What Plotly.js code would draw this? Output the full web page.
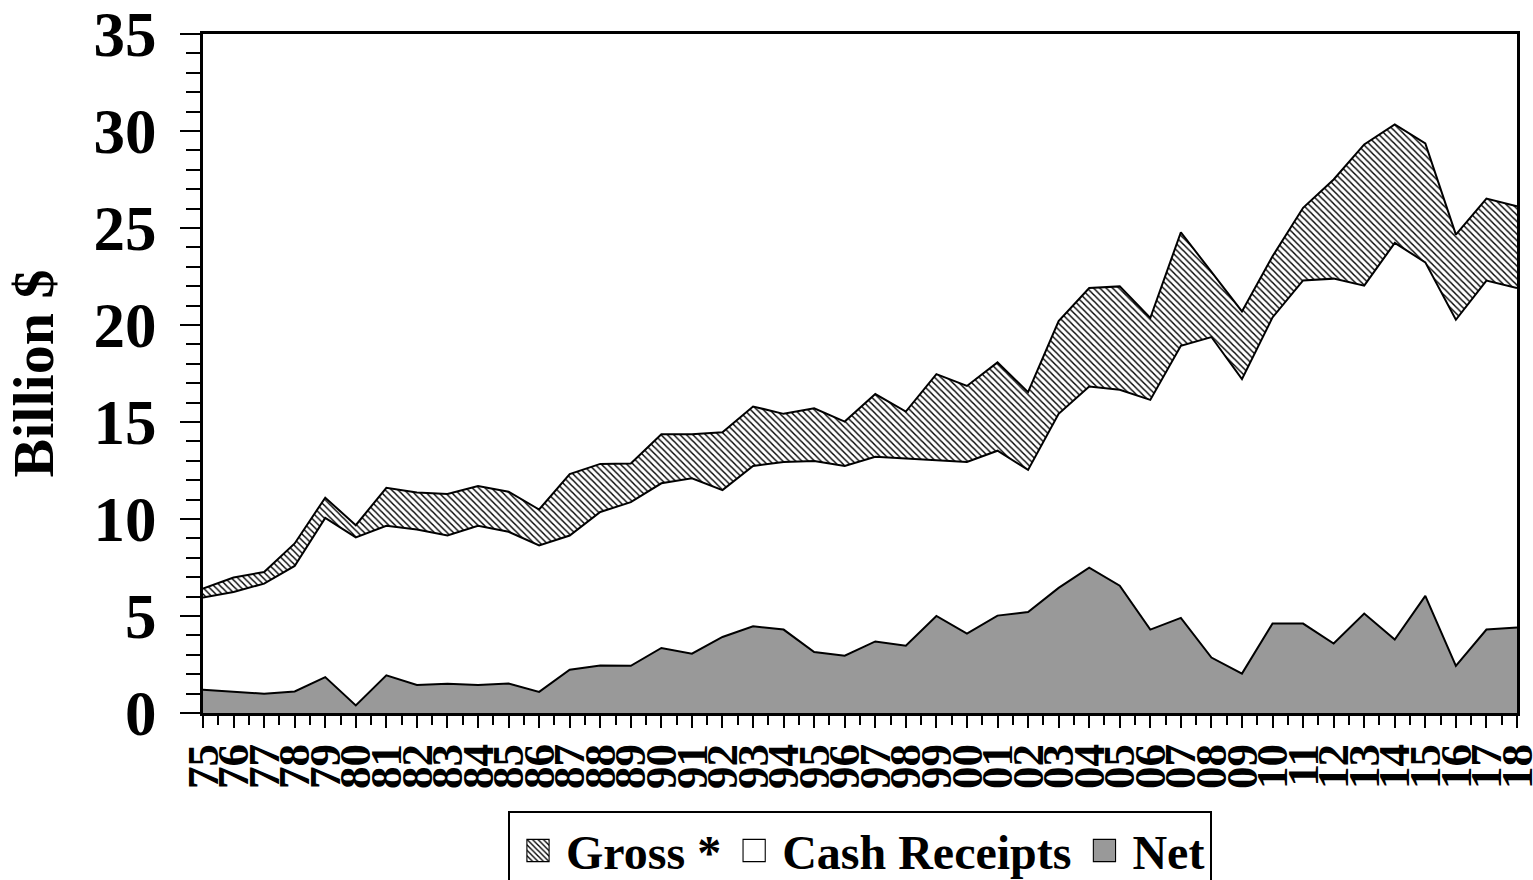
<!DOCTYPE html>
<html>
<head>
<meta charset="utf-8">
<script src="https://cdn.plot.ly/plotly-3.0.1.min.js"></script>
<style>
  html, body { margin: 0; padding: 0; background: #ffffff; }
  #chart { width: 1533px; height: 880px; }
</style>
</head>
<body>
<div id="chart"></div>
<script>
// Years 1975..2018 and their two-digit tick labels
const years = [1975,1976,1977,1978,1979,1980,1981,1982,1983,1984,1985,1986,1987,1988,1989,1990,1991,1992,1993,1994,1995,1996,1997,1998,1999,2000,2001,2002,2003,2004,2005,2006,2007,2008,2009,2010,2011,2012,2013,2014,2015,2016,2017,2018];
const tickLabels = ["75","76","77","78","79","80","81","82","83","84","85","86","87","88","89","90","91","92","93","94","95","96","97","98","99","00","01","02","03","04","05","06","07","08","09","10","11","12","13","14","15","16","17","18"];

// Billion $
const gross = [6.41,6.98,7.27,8.74,11.10,9.68,11.61,11.37,11.29,11.70,11.41,10.49,12.32,12.84,12.86,14.37,14.37,14.47,15.80,15.42,15.71,15.02,16.44,15.54,17.47,16.86,18.07,16.54,20.20,21.91,21.99,20.36,24.78,22.72,20.70,23.54,26.04,27.50,29.31,30.34,29.36,24.66,26.52,26.12];
const cashReceipts = [5.95,6.24,6.67,7.58,10.06,9.05,9.65,9.46,9.15,9.65,9.34,8.64,9.15,10.36,10.87,11.84,12.10,11.49,12.73,12.94,12.99,12.73,13.21,13.13,13.04,12.94,13.52,12.53,15.42,16.83,16.66,16.14,18.93,19.38,17.21,20.39,22.30,22.39,22.03,24.23,23.23,20.27,22.29,21.91];
const net = [1.20,1.11,0.99,1.11,1.85,0.39,1.94,1.44,1.51,1.44,1.52,1.09,2.23,2.45,2.43,3.35,3.06,3.92,4.47,4.30,3.14,2.95,3.69,3.47,5.00,4.09,5.02,5.21,6.45,7.49,6.56,4.30,4.90,2.86,2.03,4.61,4.61,3.58,5.13,3.79,6.04,2.43,4.30,4.41];

const seriesNames = ["Gross *", "Cash Receipts", "Net"];
const minorTicks = years.slice(0, -1).map(y => y + 0.5);

const FONT = "Liberation Serif, Times New Roman, serif";
const lineStyle = { color: "#000000", width: 2 };
const hatch = { shape: "\\", size: 4.5, solidity: 0.32, fgcolor: "#000000", bgcolor: "#ffffff", fillmode: "replace" };

const traces = [
  { x: years, y: gross, type: "scatter", mode: "lines", fill: "tozeroy",
    line: lineStyle, fillcolor: "#ffffff", fillpattern: hatch, showlegend: false, hoverinfo: "skip" },
  { x: years, y: cashReceipts, type: "scatter", mode: "lines", fill: "tozeroy",
    line: lineStyle, fillcolor: "#ffffff", showlegend: false, hoverinfo: "skip" },
  { x: years, y: net, type: "scatter", mode: "lines", fill: "tozeroy",
    line: lineStyle, fillcolor: "#999999", showlegend: false, hoverinfo: "skip" },
  // legend entries
  { x: [null], y: [null], type: "bar", name: seriesNames[0],
    marker: { color: "#ffffff", line: { color: "#000000", width: 0.6 }, pattern: { shape: "\\", size: 2.6, solidity: 0.35, fgcolor: "#000000", bgcolor: "#ffffff" } } },
  { x: [null], y: [null], type: "bar", name: seriesNames[1],
    marker: { color: "#ffffff", line: { color: "#000000", width: 0.6 } } },
  { x: [null], y: [null], type: "bar", name: seriesNames[2],
    marker: { color: "#999999", line: { color: "#000000", width: 0.6 } } }
];

const layout = {
  width: 1533, height: 880,
  paper_bgcolor: "#ffffff", plot_bgcolor: "#ffffff",
  margin: { l: 203, r: 16, t: 34, b: 167, autoexpand: false },
  font: { family: FONT, color: "#000000", weight: "bold" },
  showlegend: true,
  legend: {
    orientation: "h", x: 0.5, xanchor: "center", y: -0.144, yanchor: "top",
    bordercolor: "#000000", borderwidth: 2, bgcolor: "#ffffff",
    font: { family: FONT, size: 48, color: "#000000", weight: "bold" },
    traceorder: "normal", itemwidth: 46
  },
  xaxis: {
    range: [1974.9999, 2018.0001], fixedrange: true,
    tickmode: "array", tickvals: years, ticktext: tickLabels, tickangle: -90,
    ticks: "outside", ticklen: 12, tickwidth: 2, tickcolor: "#000000",
    ticklabelstandoff: -2, ticklabeloverflow: "allow",
    minor: { tickmode: "array", tickvals: minorTicks, ticks: "outside", ticklen: 9, tickwidth: 2, tickcolor: "#000000", showgrid: false },
    tickfont: { family: FONT, size: 45, color: "#000000", weight: "bold" },
    showline: true, linecolor: "#000000", linewidth: 3, mirror: true,
    showgrid: false, zeroline: false
  },
  yaxis: {
    range: [0, 35], fixedrange: true,
    tickmode: "linear", tick0: 0, dtick: 5,
    ticks: "outside", ticklen: 20, tickwidth: 2, tickcolor: "#000000",
    ticklabelstandoff: 11,
    minor: { tick0: 0, dtick: 1, ticks: "outside", ticklen: 14, tickwidth: 2, tickcolor: "#000000", showgrid: false },
    tickfont: { family: FONT, size: 63, color: "#000000", weight: "bold" },
    title: { text: "Billion $", font: { family: FONT, size: 58, color: "#000000", weight: "bold" }, standoff: 22 },
    showline: true, linecolor: "#000000", linewidth: 3, mirror: true,
    showgrid: false, zeroline: false
  }
};

Plotly.newPlot("chart", traces, layout, { staticPlot: true, displayModeBar: false }).then(function (gd) {
  // enlarge the legend swatches to match the reference's square keys
  gd.querySelectorAll(".legend .legendpoints path").forEach(function (p) {
    const t = p.getAttribute("transform") || "";
    p.setAttribute("transform", t + " scale(1.85)");
  });
});
</script>
</body>
</html>
